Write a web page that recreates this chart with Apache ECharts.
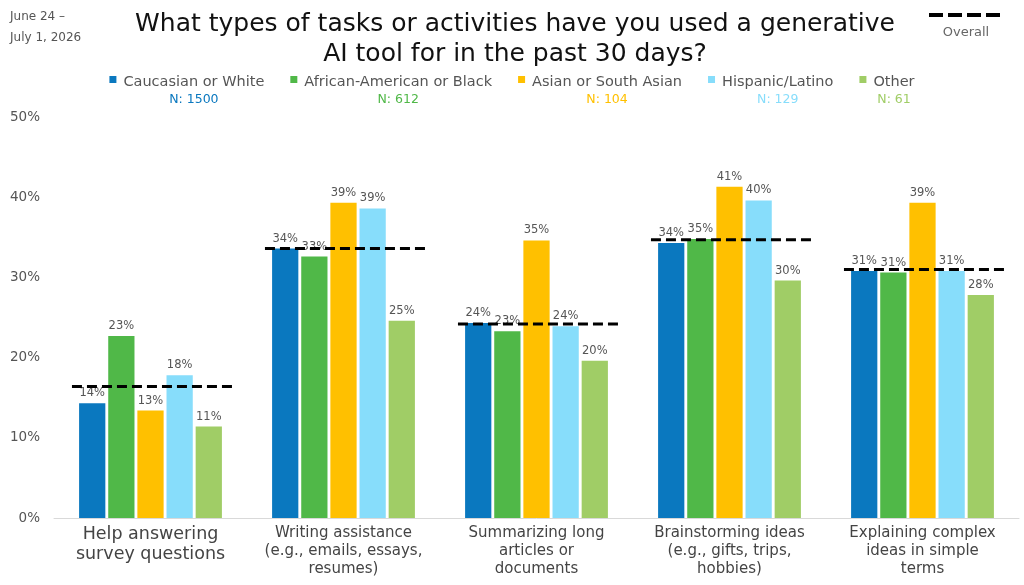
<!DOCTYPE html>
<html>
<head>
<meta charset="utf-8">
<script src="https://cdn.jsdelivr.net/npm/echarts@6/dist/echarts.min.js"></script>
<style>html,body{margin:0;padding:0;background:#fff}#c{width:1024px;height:585px}</style>
</head>
<body>
<div id="c"></div>
<script>
const categories = [
  "Help answering\nsurvey questions",
  "Writing assistance\n(e.g., emails, essays,\nresumes)",
  "Summarizing long\narticles or\ndocuments",
  "Brainstorming ideas\n(e.g., gifts, trips,\nhobbies)",
  "Explaining complex\nideas in simple\nterms"
];
const seriesNames = ["Caucasian or White", "African-American or Black", "Asian or South Asian", "Hispanic/Latino", "Other"];
const sampleSizes = ["1500", "612", "104", "129", "61"];
const colors = ["#0A78BF", "#50B848", "#FFC000", "#87DDFB", "#A0CD66"];
const white = [14.3, 33.6, 24.3, 34.3, 30.8];
const black = [22.7, 32.6, 23.3, 34.8, 30.6];
const asian = [13.4, 39.3, 34.6, 41.3, 39.3];
const hispanic = [17.8, 38.6, 23.9, 39.6, 30.8];
const other = [11.4, 24.6, 19.6, 29.6, 27.8];
const overall = [16.4, 33.6, 24.2, 34.7, 31.0];
const yTicks = [0, 10, 20, 30, 40, 50];

const FONT = "DejaVu Sans";
const seriesValues = [white, black, asian, hispanic, other];

const rich = {};
colors.forEach((c, i) => {
  rich['n' + i] = { color: c, fontSize: 12.5, fontFamily: FONT, align: 'center', lineHeight: 17 };
});
rich.a = { color: '#555', fontSize: 14.5, fontFamily: FONT, align: 'center', lineHeight: 17 };

const barSeries = seriesNames.map((name, i) => ({
  name: name,
  type: 'bar',
  data: seriesValues[i],
  itemStyle: { color: colors[i] },
  barGap: '11%',
  barCategoryGap: '26%',
  label: {
    show: true, position: 'top', distance: 4,
    color: '#555', fontSize: 11.5, fontFamily: FONT,
    formatter: p => Math.round(p.value) + '%'
  }
}));

const overallSeries = {
  name: 'Overall',
  type: 'custom',
  z: 10,
  data: overall.map((v, i) => [i, v]),
  renderItem: function (params, api) {
    const pt = api.coord([api.value(0), api.value(1)]);
    const w = api.size([1, 0])[0] * 0.845;
    return {
      type: 'line',
      shape: { x1: pt[0] - w / 2 + 3, y1: pt[1], x2: pt[0] + w / 2 + 3, y2: pt[1] },
      style: { stroke: '#000', lineWidth: 3, lineDash: [10, 5] }
    };
  }
};

const chart = echarts.init(document.getElementById('c'), null, { renderer: 'canvas' });
chart.setOption({
  animation: false,
  backgroundColor: '#fff',
  title: {
    text: "What types of tasks or activities have you used a generative\nAI tool for in the past 30 days?",
    left: 510, top: 4, textAlign: 'center',
    textStyle: { fontFamily: FONT, fontSize: 25, fontWeight: 'normal', color: '#111', lineHeight: 30 }
  },
  legend: {
    data: seriesNames,
    top: 70, left: 'center',
    itemGap: 26,
    itemWidth: 7, itemHeight: 30,
    icon: 'path://M0,0h10v10h-10zM0,42.8h0.1v0.1h-0.1z',
    formatter: function (name) {
      const i = seriesNames.indexOf(name);
      return '{a|' + name + '}\n{n' + i + '|N: ' + sampleSizes[i] + '}';
    },
    textStyle: { rich: rich, padding: [0, 0, 0, 2] }
  },
  graphic: [
    { type: 'text', left: 10, top: 6, style: { text: 'June 24 –\nJuly 1, 2026', font: '12px "' + FONT + '"', fill: '#555', lineHeight: 21 } },
    { type: 'line', shape: { x1: 929, y1: 15, x2: 1004, y2: 15 }, style: { stroke: '#000', lineWidth: 4, lineDash: [14, 5] } },
    { type: 'text', x: 966, y: 26, style: { text: 'Overall', font: '13px "' + FONT + '"', fill: '#666', textAlign: 'center' } }
  ],
  grid: { left: 54, right: 5, top: 117, bottom: 67, containLabel: false },
  xAxis: {
    type: 'category',
    data: categories,
    axisLine: { lineStyle: { color: '#d9d9d9' } },
    axisTick: { show: false },
    axisLabel: {
      interval: 0, margin: 6, color: '#444', fontFamily: FONT, fontSize: 15, lineHeight: 18,
      formatter: function (v, idx) {
        if (idx === 0) return v.split('\n').map(s => '{big|' + s + '}').join('\n');
        return v;
      },
      rich: { big: { fontSize: 17.5, lineHeight: 20, color: '#444', fontFamily: FONT } }
    }
  },
  yAxis: {
    type: 'value',
    min: yTicks[0], max: yTicks[yTicks.length - 1], interval: 10,
    splitLine: { show: false },
    axisLine: { show: false },
    axisTick: { show: false },
    axisLabel: { margin: 14, color: '#555', fontFamily: FONT, fontSize: 13.5, formatter: '{value}%' }
  },
  series: barSeries.concat([overallSeries])
});
</script>
</body>
</html>
